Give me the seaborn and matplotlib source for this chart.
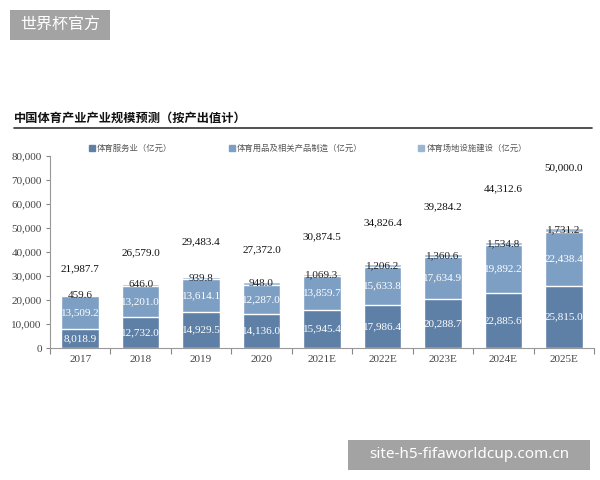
# import libraries
import seaborn as sns
import pandas as pd
import numpy as np
import matplotlib.pyplot as plt
from matplotlib.lines import Line2D
from matplotlib.patches import Rectangle
from matplotlib.ticker import FuncFormatter, FixedLocator

# data (亿元)
years = ["2017", "2018", "2019", "2020", "2021E", "2022E", "2023E", "2024E", "2025E"]
service = [8018.9, 12732.0, 14929.5, 14136.0, 15945.4, 17986.4, 20288.7, 22885.6, 25815.0]
goods = [13509.2, 13201.0, 13614.1, 12287.0, 13859.7, 15633.8, 17634.9, 19892.2, 22438.4]
venues = [459.6, 646.0, 939.8, 948.0, 1069.3, 1206.2, 1360.6, 1534.8, 1731.2]
totals = [21987.7, 26579.0, 29483.4, 27372.0, 30874.5, 34826.4, 39284.2, 44312.6, 50000.0]
series_names = ["体育服务业（亿元）", "体育用品及相关产品制造（亿元）", "体育场地设施建设（亿元）"]

df = pd.DataFrame({"year": years, "service": service, "goods": goods, "venues": venues})
df["lvl1"] = df["service"]
df["lvl2"] = df["service"] + df["goods"]
df["lvl3"] = df["lvl2"] + df["venues"]

c_dark, c_mid, c_light = "#5f80a6", "#7e9fc4", "#9ab6d3"

sns.set_style("white")
plt.rcParams["font.family"] = ["Noto Sans CJK SC", "DejaVu Sans"]
num_font = "Liberation Serif"

fig = plt.figure(figsize=(6, 4.8), dpi=100)
ax = fig.add_axes([50 / 600, 1 - 348 / 480, 544 / 600, 192 / 480])

# stacked bars drawn as layers, tallest first
sns.barplot(data=df, x="year", y="lvl3", order=years, color=c_light, saturation=1, width=0.62, ax=ax)
sns.barplot(data=df, x="year", y="lvl2", order=years, color=c_mid, saturation=1, width=0.62, ax=ax)
sns.barplot(data=df, x="year", y="lvl1", order=years, color=c_dark, saturation=1, width=0.62, ax=ax)

ax.set_ylim(0, 80000)
ax.set_xlim(-0.5, len(years) - 0.5)
ax.set_xlabel("")
ax.set_ylabel("")
ax.set_yticks(range(0, 80001, 10000))
ax.yaxis.set_major_formatter(FuncFormatter(lambda v, p: f"{v:,.0f}"))
for lab in ax.get_yticklabels() + ax.get_xticklabels():
    lab.set_fontfamily(num_font)
    lab.set_fontsize(8)
    lab.set_color("#444444")
ax.tick_params(axis="y", length=3, width=0.8, color="#888888", pad=3, left=True)
ax.tick_params(axis="x", which="major", length=0, pad=5)
ax.xaxis.set_minor_locator(FixedLocator(np.arange(-0.5, len(years), 1)))
ax.tick_params(axis="x", which="minor", length=4, width=0.8, color="#888888", bottom=True)
sns.despine(ax=ax, top=True, right=True)
for sp in ["left", "bottom"]:
    ax.spines[sp].set_color("#999999")
    ax.spines[sp].set_linewidth(0.8)

# segment labels
for i in range(len(years)):
    s, g, v = service[i], goods[i], venues[i]
    ax.text(i, s / 2, f"{s:,.1f}", ha="center", va="center", color="white",
            fontsize=8, family=num_font)
    ax.text(i, s + g / 2, f"{g:,.1f}", ha="center", va="center", color="white",
            fontsize=8, family=num_font)
    ax.text(i, s + g + v / 2, f"{v:,.1f}", ha="center", va="center", color="#222222",
            fontsize=8, family=num_font)

# totals sit on a hidden secondary axis
ax2 = ax.twinx()
ax2.set_ylim(0, 53400)
ax2.axis("off")
for i, t in enumerate(totals):
    ax2.text(i, t, f"{t:,.1f}", ha="center", va="center", color="#111111",
             fontsize=8, family=num_font)

# legend
handles = [Line2D([], [], marker="s", linestyle="none", markersize=4, color=c)
           for c in [c_dark, c_mid, c_light]]
leg = fig.legend(handles, series_names, ncol=3, loc="center left",
                 bbox_to_anchor=(82 / 600, 1 - 148 / 480), frameon=False,
                 fontsize=6, handlelength=0.6, handletextpad=0.3, columnspacing=6.8)
for t in leg.get_texts():
    t.set_color("#555555")

# title and rule
fig.text(14 / 600, 1 - 118 / 480, "中国体育产业产业规模预测（按产出值计）",
         fontsize=8.8, fontweight="bold", va="center", ha="left", color="#111111")
fig.add_artist(Line2D([14 / 600, 592 / 600], [1 - 128 / 480] * 2, color="#333333", lw=1.2))

# watermark boxes
fig.add_artist(Rectangle((10 / 600, 1 - 40 / 480), 100 / 600, 30 / 480,
                         transform=fig.transFigure, fc="#a3a3a3", ec="none"))
fig.text(60 / 600, 1 - 25 / 480, "世界杯官方", color="white", fontsize=11.5,
         ha="center", va="center")
fig.add_artist(Rectangle((348 / 600, 1 - 470 / 480), 242 / 600, 30 / 480,
                         transform=fig.transFigure, fc="#a3a3a3", ec="none"))
fig.text(469 / 600, 1 - 455 / 480, "site-h5-fifaworldcup.com.cn", color="white",
         fontsize=11, ha="center", va="center", family="Noto Sans")

fig.savefig("out.png", dpi=100)
